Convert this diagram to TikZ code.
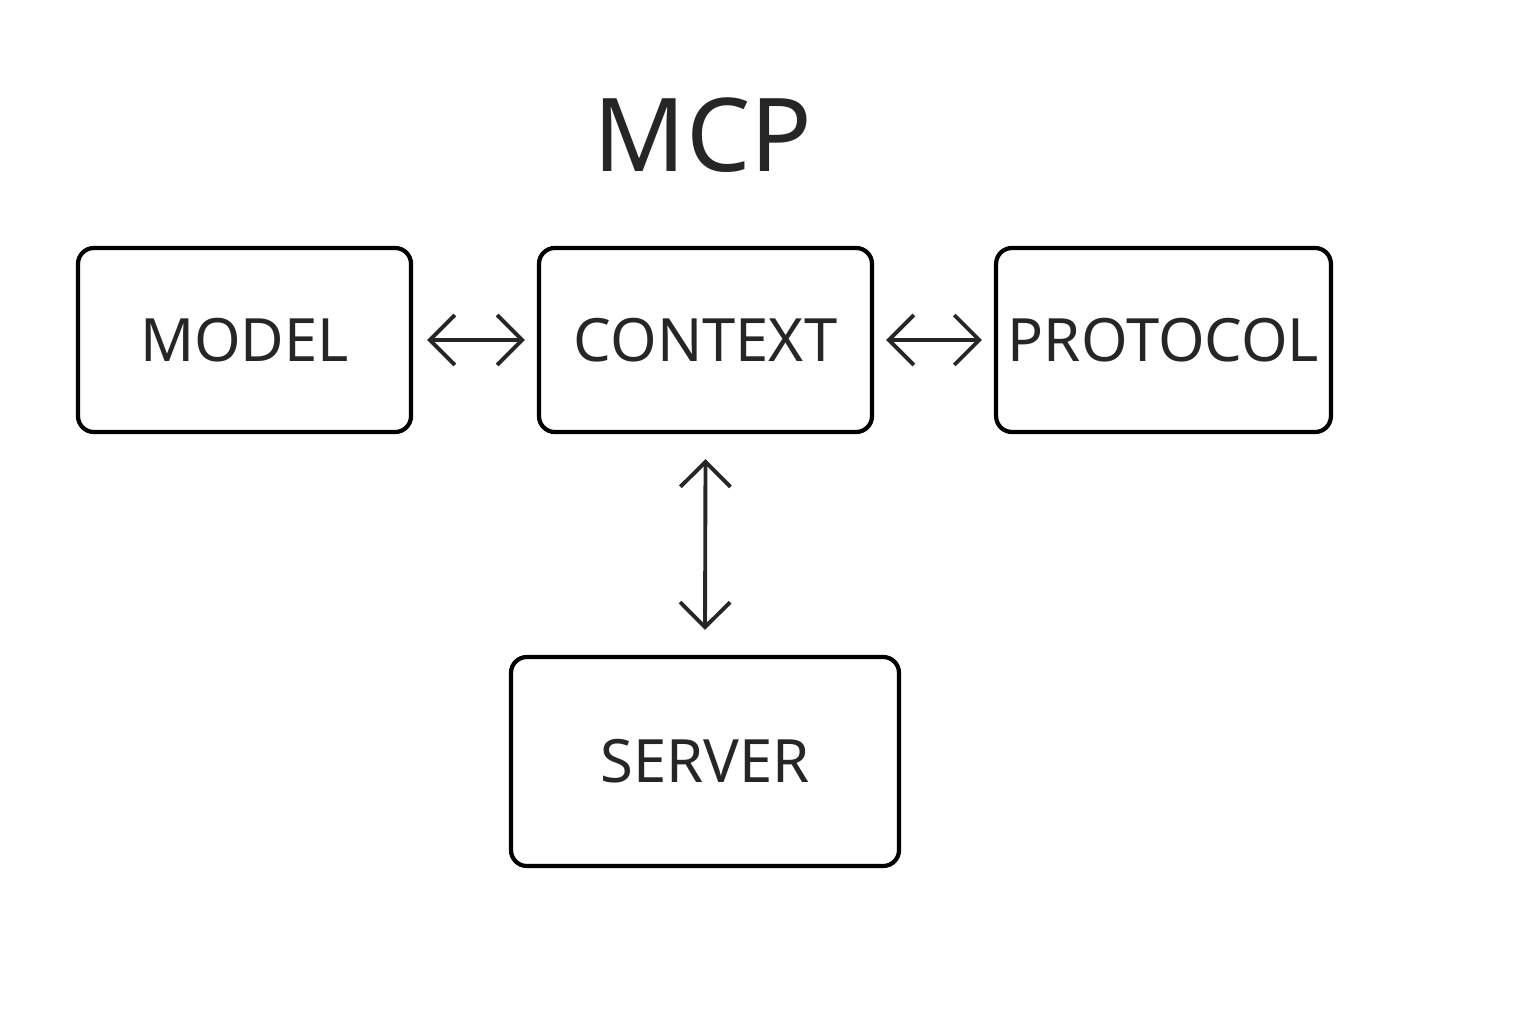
\documentclass[tikz,border=0pt]{standalone}
\usepackage{fontspec}
\setmainfont{Noto Sans}
\usetikzlibrary{arrows.meta,positioning}
\tikzset{
    bloque/.style={draw, line width=1.2pt, rounded corners=4.5pt, minimum width=3.33cm, minimum height=1.84cm, font=\fontsize{17}{20}\selectfont, text=black!85},
    flecha/.style={{Straight Barb[length=2.5mm,width=5mm]}-{Straight Barb[length=2.5mm,width=5mm]}, line width=1.1pt, black!85}
}
\begin{document}
\begin{tikzpicture}
    \useasboundingbox (0,0) rectangle (15.36,10.24);
    %Titulo
    \node[font=\bfseries\fontsize{29}{34}\selectfont, text=black!85] (titulo) at (7.03,8.89) {MCP};
    %Bloques
    \node[bloque] (model)    at (2.445,6.84) {MODEL};
    \node[bloque] (context)  at (7.055,6.84) {CONTEXT};
    \node[bloque] (protocol) at (11.635,6.84) {PROTOCOL};
    \node[bloque, minimum width=3.88cm, minimum height=2.09cm] (server) at (7.05,2.625) {SERVER};
    %Conexiones
    \draw[flecha] ([xshift=1.4mm]model.east) -- ([xshift=-1.2mm]context.west);
    \draw[flecha] ([xshift=1.2mm]context.east) -- ([xshift=-1.2mm]protocol.west);
    \draw[flecha] ([yshift=-2.5mm]context.south) -- ([yshift=2.5mm]server.north);
\end{tikzpicture}
\end{document}
